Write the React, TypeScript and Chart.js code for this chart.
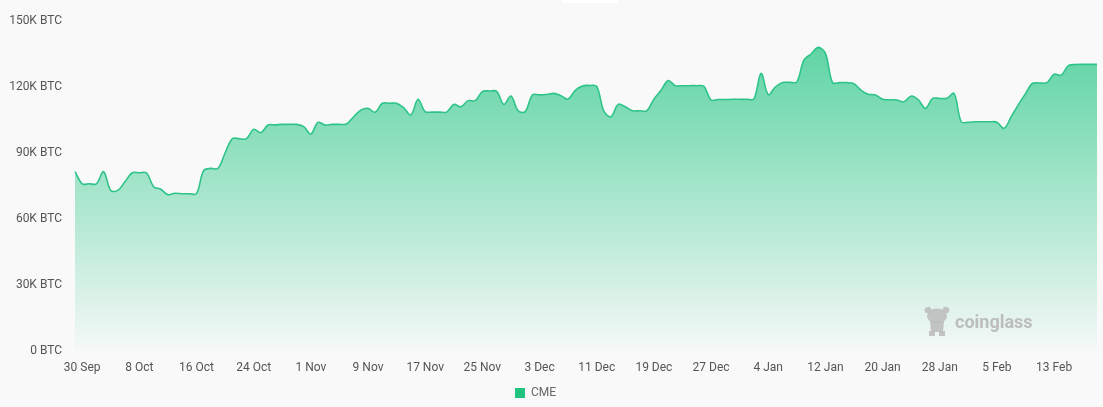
import React, { useEffect, useRef } from "react";
import { Chart, registerables } from "chart.js";

Chart.register(...registerables);

// ---- data -------------------------------------------------------------
const START_DATE_UTC = Date.UTC(2024, 8, 29); // 29 Sep 2024
const MONTH_NAMES = ["Jan", "Feb", "Mar", "Apr", "May", "Jun", "Jul", "Aug", "Sep", "Oct", "Nov", "Dec"];

// CME open interest, thousand BTC, one value per day from 29 Sep
const cmeOpenInterestK = [
  81.5, 76, 76, 76, 81.5, 73, 73, 77, 81, 81,
  81, 74.7, 73.5, 71, 71.7, 71.5, 71.5, 71.5, 82, 83,
  83, 90, 96.5, 96.5, 96.5, 100.8, 99.2, 102.7, 102.8, 103,
  103, 103, 102, 98.6, 103.9, 102.7, 103, 103, 103.2, 106.5,
  109.5, 110.3, 108.5, 112.6, 112.6, 112.6, 110.5, 107.3, 114.4, 108.8,
  108.6, 108.6, 108.6, 112.1, 111, 113.8, 113.8, 117.9, 118.2, 118,
  112.1, 115.9, 109.2, 108.8, 116.4, 116.4, 116.6, 117.1, 116, 114.5,
  118.5, 120.5, 120.7, 120.3, 109, 106.5, 112.1, 111, 109.2, 109.2,
  109.2, 114.5, 118.5, 122.9, 120.6, 120.6, 120.6, 120.6, 120.3, 114.1,
  114.3, 114.3, 114.4, 114.4, 114.4, 114.6, 126.2, 116.5, 120, 122,
  122.1, 122.3, 132.3, 135, 138, 135.3, 122, 122, 122, 121.5,
  118.5, 116.7, 116.4, 114.4, 114.2, 114.1, 113.3, 115.9, 114.2, 110.3,
  114.8, 114.8, 114.9, 117.1, 104.2, 104, 104.2, 104.2, 104.2, 104,
  101.2, 106.5, 112, 117, 121.7, 121.8, 122, 125.8, 125.4, 129.7,
  130.2, 130.3, 130.3, 130.3,
];

// category labels: one per day
const dayLabels: string[] = cmeOpenInterestK.map((_, i) => {
  const d = new Date(START_DATE_UTC + i * 86400000);
  return `${d.getUTCDate()} ${MONTH_NAMES[d.getUTCMonth()]}`;
});

const FIRST_LABEL_INDEX = 1; // 30 Sep
const LABEL_EVERY = 8;
const Y_MIN = 0;
const Y_MAX = 150;
const Y_STEP = 30;
const SERIES_NAME = "CME";
const WATERMARK = "coinglass";

// ---- styles ------------------------------------------------------------
const FONT = "Roboto, 'Noto Sans', sans-serif";
const LINE_COLOR = "#2ec489";
const LEGEND_COLOR = "#20c47f";
const TEXT_COLOR = "#555555";
const BG = "#f9f9f9";

const overlayPlugin = {
  id: "overlay",
  beforeDraw(chart: any) {
    const { ctx, width, height } = chart;
    ctx.save();
    ctx.fillStyle = BG;
    ctx.fillRect(0, 0, width, height);
    ctx.fillStyle = "#ffffff";
    ctx.fillRect(562, 0, 56, 3);
    ctx.restore();
  },
  afterDatasetsDraw(chart: any) {
    const { ctx, chartArea } = chart;
    const bx = chartArea.right - 172;
    const by = chartArea.bottom - 44;
    ctx.save();
    ctx.fillStyle = "rgba(190,190,190,0.9)";
    // mascot: head with ears, body, legs
    ctx.beginPath();
    ctx.ellipse(bx + 12, by + 9, 10, 7.5, 0, 0, Math.PI * 2);
    ctx.fill();
    ctx.beginPath();
    ctx.ellipse(bx + 3, by + 3, 3.5, 3, -0.4, 0, Math.PI * 2);
    ctx.ellipse(bx + 21, by + 3, 3.5, 3, 0.4, 0, Math.PI * 2);
    ctx.fill();
    ctx.beginPath();
    ctx.moveTo(bx + 5, by + 14);
    ctx.lineTo(bx + 19, by + 14);
    ctx.lineTo(bx + 18, by + 25);
    ctx.lineTo(bx + 6, by + 25);
    ctx.closePath();
    ctx.fill();
    ctx.fillRect(bx + 4, by + 24, 6, 5);
    ctx.fillRect(bx + 14, by + 24, 6, 5);
    // text
    ctx.fillStyle = "rgba(185,185,185,0.95)";
    ctx.font = `bold 18px ${FONT}`;
    ctx.textBaseline = "alphabetic";
    ctx.textAlign = "left";
    ctx.fillText(WATERMARK, bx + 30, by + 21);
    ctx.restore();
  },
  afterDraw(chart: any) {
    const { ctx } = chart;
    ctx.save();
    ctx.fillStyle = LEGEND_COLOR;
    ctx.fillRect(515, 388, 10, 10);
    ctx.fillStyle = "#666666";
    ctx.font = `12px ${FONT}`;
    ctx.textBaseline = "middle";
    ctx.textAlign = "left";
    ctx.fillText(SERIES_NAME, 531, 393);
    ctx.restore();
  },
};

export default function App() {
  const canvasRef = useRef<HTMLCanvasElement | null>(null);

  useEffect(() => {
    const canvas = canvasRef.current;
    if (!canvas) return;
    const chart = new Chart(canvas, {
      type: "line",
      data: {
        labels: dayLabels,
        datasets: [
          {
            label: SERIES_NAME,
            data: cmeOpenInterestK,
            borderColor: LINE_COLOR,
            borderWidth: 1.6,
            pointRadius: 0,
            pointHoverRadius: 0,
            tension: 0.35,
            fill: "origin",
            backgroundColor: (c: any) => {
              const { chart: ch } = c;
              const area = ch.chartArea;
              if (!area) return "rgba(46,196,137,0.5)";
              const g = ch.ctx.createLinearGradient(0, area.top, 0, area.bottom);
              g.addColorStop(0, "rgba(46,200,138,0.82)");
              g.addColorStop(0.5, "rgba(46,200,138,0.42)");
              g.addColorStop(1, "rgba(46,200,138,0.02)");
              return g;
            },
          },
        ],
      },
      options: {
        responsive: false,
        animation: false,
        events: [],
        layout: { padding: { top: 21, right: 6, left: 0, bottom: 0 } },
        plugins: {
          legend: { display: false },
          tooltip: { enabled: false },
        },
        scales: {
          x: {
            type: "category",
            offset: false,
            grid: { display: false, drawTicks: false },
            border: { display: false },
            ticks: {
              autoSkip: false,
              maxRotation: 0,
              minRotation: 0,
              padding: 10,
              color: TEXT_COLOR,
              font: { family: FONT, size: 12 },
              callback: (_v: any, i: number) =>
                i >= FIRST_LABEL_INDEX && (i - FIRST_LABEL_INDEX) % LABEL_EVERY === 0 ? dayLabels[i] : "",
            },
            afterFit: (scale: any) => {
              scale.height = 56;
              scale.paddingLeft = 0;
              scale.paddingRight = 0;
            },
          },
          y: {
            min: Y_MIN,
            max: Y_MAX,
            grid: { display: false, drawTicks: false },
            border: { display: false },
            ticks: {
              stepSize: Y_STEP,
              padding: 13,
              color: TEXT_COLOR,
              font: { family: FONT, size: 12 },
              callback: (v: any) => (Number(v) === 0 ? "0 BTC" : `${v}K BTC`),
            },
            afterFit: (scale: any) => {
              scale.width = 75;
            },
          },
        },
      },
      plugins: [overlayPlugin],
    });
    return () => chart.destroy();
  }, []);

  return (
    <div style={{ position: "fixed", left: 0, top: 0, width: 1103, height: 407, background: BG }}>
      <canvas ref={canvasRef} width={1103} height={407} style={{ display: "block", width: 1103, height: 407 }} />
    </div>
  );
}
